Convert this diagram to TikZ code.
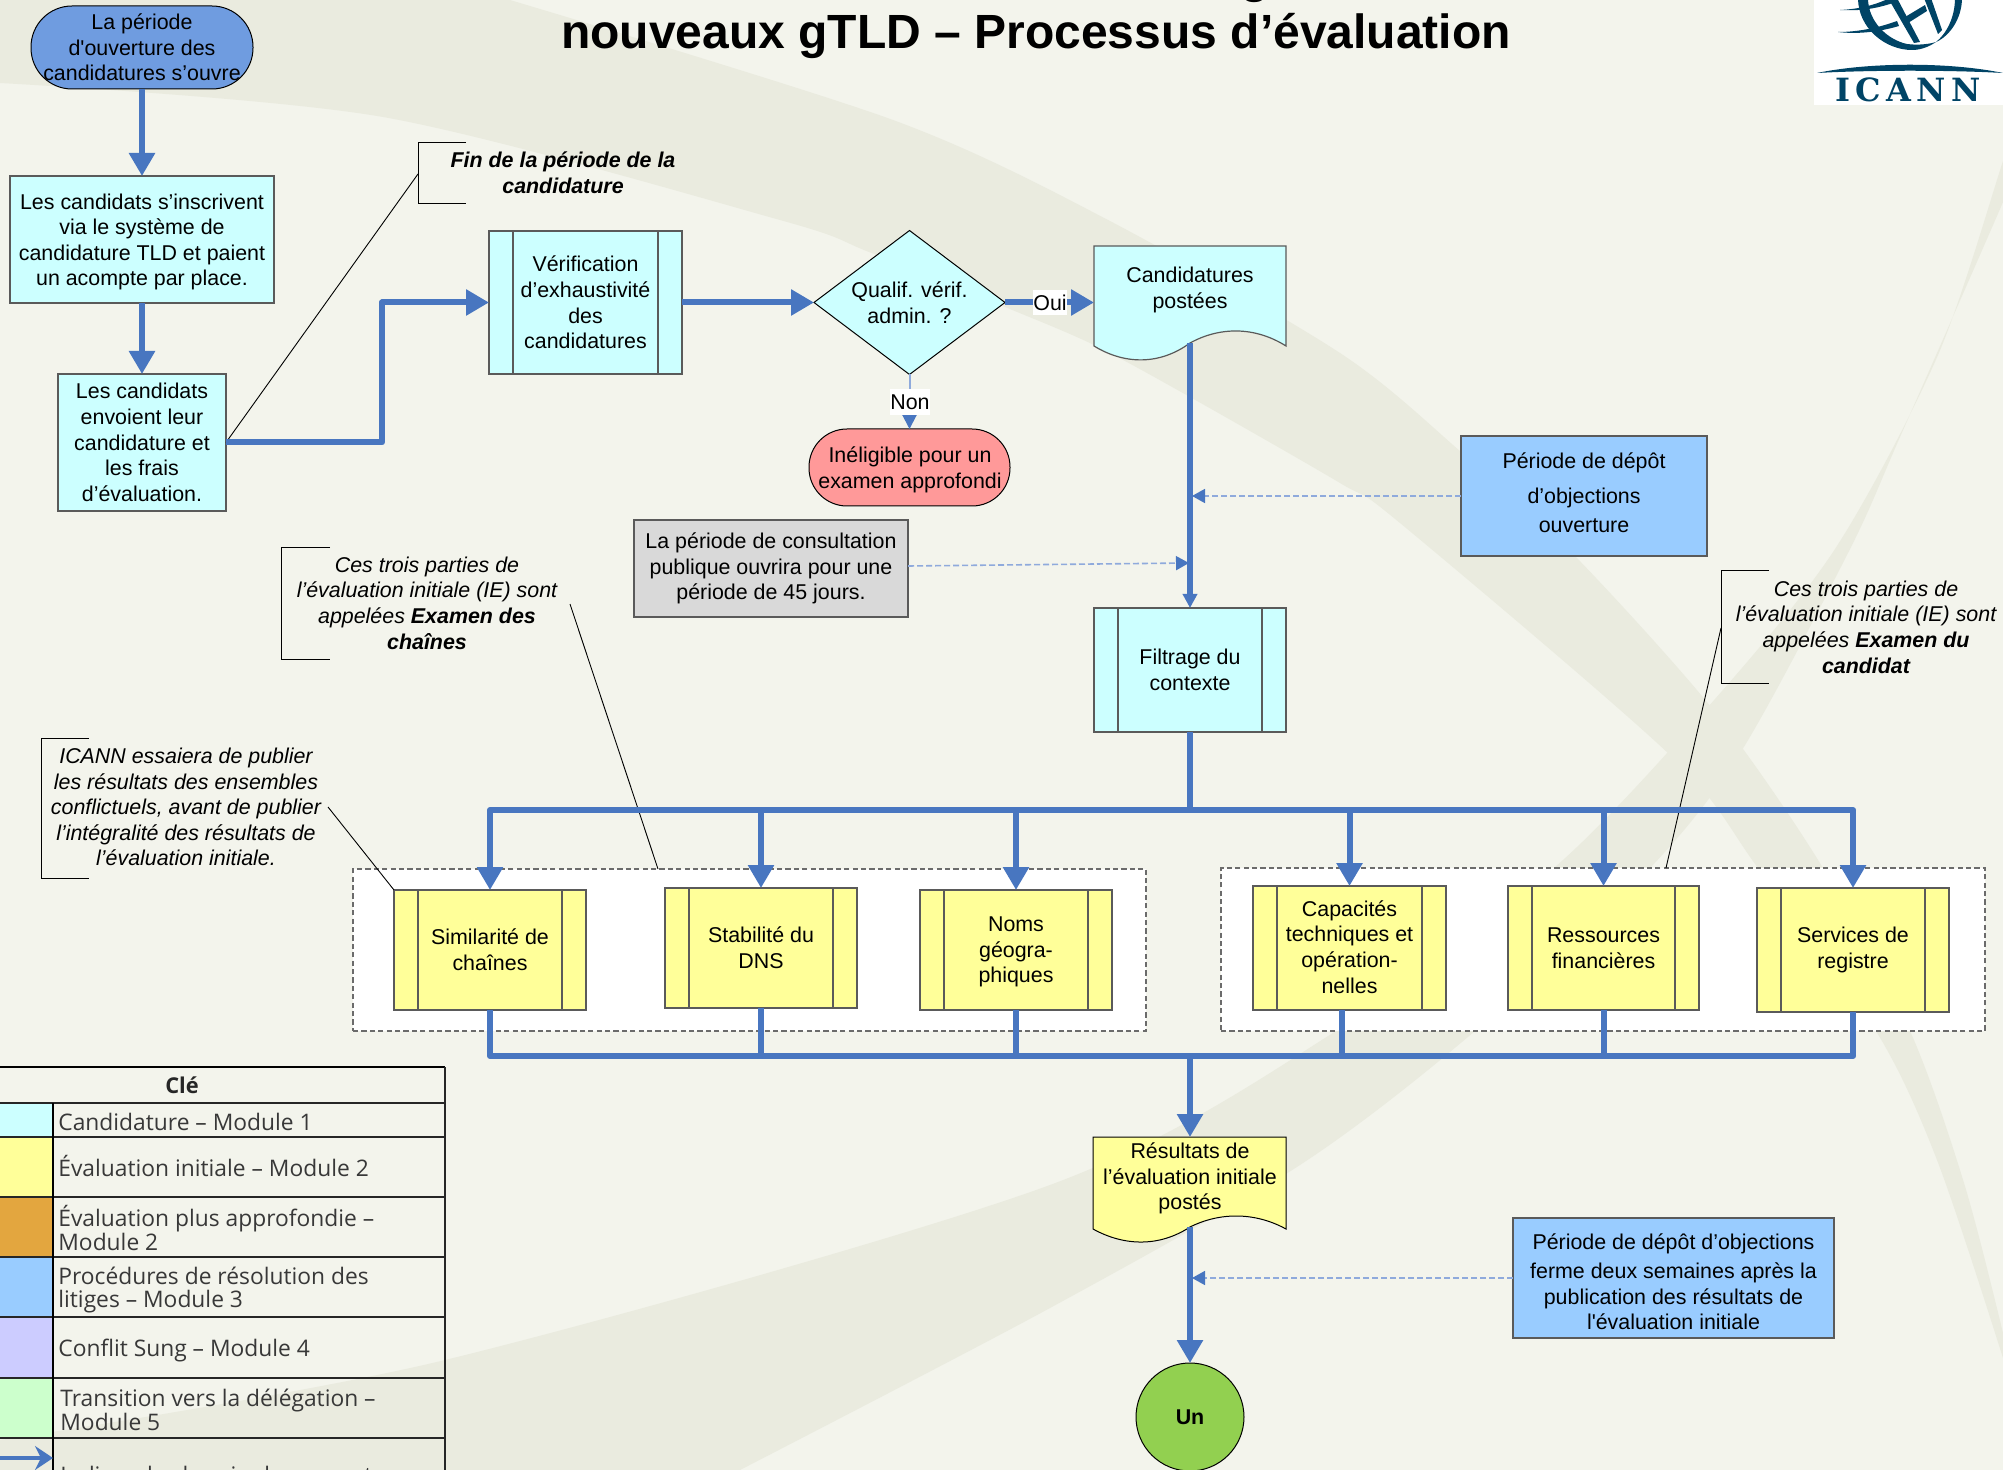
\documentclass[tikz,border=0pt]{standalone}
\usepackage{fontspec}
\setmainfont{Liberation Sans}
\newfontfamily\legf{Open Sans}
\newfontfamily\logof{DejaVu Serif}
\usetikzlibrary{arrows.meta,shapes.geometric,calc}
\definecolor{bgc}{HTML}{F3F4EC}
\definecolor{bandc}{HTML}{EAEBDF}
\definecolor{flowc}{HTML}{4876C0}
\definecolor{palec}{HTML}{8FAADC}
\definecolor{cyanc}{HTML}{CCFFFF}
\definecolor{yelc}{HTML}{FFFF99}
\definecolor{bluec}{HTML}{99CCFF}
\definecolor{grayc}{HTML}{D9D9D9}
\definecolor{startc}{HTML}{6F9CE0}
\definecolor{redc}{HTML}{FF9999}
\definecolor{greenc}{HTML}{92D050}
\definecolor{orangec}{HTML}{E3A63F}
\definecolor{lavc}{HTML}{CCCCFF}
\definecolor{mintc}{HTML}{CCFFCC}
\definecolor{logoc}{HTML}{004466}
\definecolor{edgec}{HTML}{5A5A5A}
\tikzset{
  bodytext/.style={font=\fontsize{10.7}{12.8}\selectfont,align=center,text=black},
  pbox/.style={bodytext,draw=edgec,line width=0.6pt},
  termbox/.style={bodytext,draw=black,line width=0.5pt},
  flowline/.style={draw=flowc,line width=3pt,line join=round},
  flow/.style={flowline,-{Triangle[length=11.5pt,width=12.5pt]}},
  flowsmall/.style={draw=flowc,line width=2.6pt,line join=round,-{Triangle[length=7pt,width=7pt]}},
  dashflow/.style={draw=palec,line width=0.8pt,dash pattern=on 3pt off 1.5pt,-{Triangle[length=6.5pt,width=7pt,color=flowc,fill=flowc]}},
  paleflow/.style={draw=palec,line width=1pt,-{Triangle[length=7pt,width=7pt,color=flowc,fill=flowc]}},
  leader/.style={draw=black,line width=0.45pt},
  brace/.style={draw=black,line width=0.5pt},
  note/.style={bodytext,font=\fontsize{10.7}{12.8}\selectfont\itshape},
  notebold/.style={bodytext,font=\fontsize{10.7}{12.8}\selectfont\bfseries\itshape},
  groupbox/.style={fill=white,draw=black!58,line width=0.6pt,dash pattern=on 2.6pt off 1.6pt},
  legrule/.style={draw=black!85,line width=0.8pt},
  legtext/.style={font=\legf\fontsize{11.4}{11.8}\selectfont,text=black!78,align=left,anchor=west},
  band/.style={fill=bandc,draw=none},
  logofill/.style={fill=logoc,draw=none},
  edgelabel/.style={fill=white,inner sep=0pt,font=\fontsize{10.7}{12.8}\selectfont},
}
% style, name, x1, y1, x2, y2, text
\newcommand{\boxn}[7]{\node[#1,inner sep=0pt,outer sep=0pt,minimum width={(#5-#3)*0.5pt},minimum height={(#6-#4)*0.5pt}] (#2) at ({(#3+#5)/2},{(#4+#6)/2}) {#7};}
\newcommand{\subrlines}[1]{%
  \draw[draw=edgec,line width=0.6pt] ([xshift=12pt]#1.north west) -- ([xshift=12pt]#1.south west);
  \draw[draw=edgec,line width=0.6pt] ([xshift=-12pt]#1.north east) -- ([xshift=-12pt]#1.south east);}
\begin{document}
\begin{tikzpicture}[x=0.5pt,y=-0.5pt]
\useasboundingbox (0,0) rectangle (2003,1470);
\clip (0,0) rectangle (2003,1470);
% background
\fill[bgc] (0,0) rectangle (2003,1470);
\fill[band] plot[smooth,tension=0.5] coordinates {(510,0) (893,120) (1108,220) (1340,353) (1461,452) (1573,554) (1715,712) (1823,868) (1910,1031) (1964,1183) (2003,1333) (2010,1370)}
  -- plot[smooth,tension=0.5] coordinates {(2010,1390) (2003,1358) (1937,1160) (1876,1031) (1758,868) (1671,756) (1400,523) (1340,483) (1190,397) (1094,345) (1005,307) (869,252) (780,220) (383,117) (0,83)}
  -- (0,0) -- cycle;
\fill[band] plot[smooth,tension=0.5] coordinates {(2010,140) (2003,161) (1938,355) (1835,549) (1708,707) (1554,868) (1336,1031) (1050,1185) (445,1360) (0,1440)}
  -- (0,1470) -- (740,1470)
  -- plot[smooth,tension=0.5] coordinates {(740,1470) (1050,1308) (1300,1165) (1475,1031) (1650,868) (1742,750) (1850,549) (1900,437) (2003,202) (2010,180)}
  -- cycle;
% logo
\fill[white] (1814,0) rectangle (2003,105);
\fill[logofill] (1817,73) .. controls (1870,62) and (1950,62) .. (2003,73) .. controls (1950,70) and (1870,70) .. (1817,73) -- cycle;
\fill[logofill] (1858,-2) .. controls (1858,28) and (1885,50) .. (1912,50) .. controls (1922,50) and (1930,46) .. (1936,42) .. controls (1926,45) and (1915,45) .. (1907,44) .. controls (1888,40) and (1868,22) .. (1868,-2) -- cycle;
\fill[logofill] (1962,-2) .. controls (1962,18) and (1950,36) .. (1936,42) .. controls (1946,34) and (1955,18) .. (1955,-2) -- cycle;
\fill[logofill] (1840,10) .. controls (1860,9) and (1875,5) .. (1890,-2) -- (1893,3) .. controls (1875,9) and (1860,11) .. (1840,10) -- cycle;
\fill[logofill] (1838,32) .. controls (1855,32) and (1875,29) .. (1897,21) -- (1899,26) .. controls (1875,33) and (1855,34) .. (1838,32) -- cycle;
\fill[logofill] (1905,17) -- (1925,5) -- (1927,11) -- (1908,23) -- cycle;
\fill[logofill] (1888,-2) -- (1897,-2) -- (1920,42) -- (1914,43) -- cycle;
\fill[logofill] (1924,-2) -- (1931,-2) -- (1942,30) -- (1938,34) -- cycle;
\node[text=logoc,inner sep=0pt,anchor=base,font=\logof\bfseries\fontsize{16}{16}\selectfont] (logotext) at (1908,102) {\addfontfeature{LetterSpace=17}ICANN};
% title
\node[inner sep=0pt,anchor=base,font=\bfseries\fontsize{24}{26}\selectfont] (title) at (1036,49) {nouveaux gTLD – Processus d’évaluation};
\node[inner sep=0pt,anchor=base,font=\bfseries\fontsize{24}{26}\selectfont] (titleg) at (1255,-7) {g};
% grouped backgrounds
\boxn{groupbox}{grpa}{353}{869}{1146}{1031}{}
\boxn{groupbox}{grpb}{1221}{868}{1985}{1031}{}
% nodes
\boxn{termbox,fill=startc,rounded corners=20.5pt}{start}{31}{6}{253}{89}{La période\\d\textquotesingle ouverture des\\candidatures s’ouvre}
\boxn{pbox,fill=cyanc}{inscr}{10}{176}{274}{303}{}
\node[bodytext,inner sep=0pt] (inscrtext) at (142,242) {Les candidats s’inscrivent\\via le système de\\candidature TLD et paient\\un acompte par place.};
\boxn{pbox,fill=cyanc}{envoi}{58}{374}{226}{511}{Les candidats\\envoient leur\\candidature et\\les frais\\d’évaluation.}
\boxn{pbox,fill=cyanc}{verif}{489}{231}{682}{374}{Vérification\\d’exhaustivité\\des\\candidatures}
\subrlines{verif}
\node[termbox,diamond,fill=cyanc,shape aspect=1.336,inner sep=0pt,outer sep=0pt,minimum width=95.5pt,minimum height=72pt] (qual) at (909.5,302.5) {Qualif. vérif.\\admin. ?};
\boxn{termbox,fill=redc,rounded corners=19pt}{inel}{809}{429}{1010}{506}{}
\node[bodytext,inner sep=0pt] (ineltext) at (910,470) {Inéligible pour un\\examen approfondi};
% document shape 1
\draw[pbox,fill=cyanc] (1094,246) -- (1286,246) -- (1286,346) .. controls (1255,326.5) and (1220,326.5) .. (1190,343) .. controls (1160,365) and (1125,365) .. (1094,346) -- cycle;
\node[bodytext,inner sep=0pt] (cand) at (1190,290) {Candidatures\\postées};
\coordinate (candin) at (1094,302.5);
\coordinate (candout) at (1190,343);
\boxn{pbox,fill=bluec}{ouvr}{1461}{436}{1707}{556}{}
\node[bodytext,inner sep=0pt] (ouvrtext) at (1584,493) {Période de dépôt\\[4.7pt]d’objections\\[1.7pt]ouverture};
\boxn{pbox,fill=grayc}{consult}{634}{520}{908}{617}{La période de consultation\\publique ouvrira pour une\\période de 45 jours.}
\boxn{pbox,fill=cyanc}{filt}{1094}{608}{1286}{732}{Filtrage du\\contexte}
\subrlines{filt}
\boxn{pbox,fill=yelc}{sim}{394}{890}{586}{1010}{Similarité de\\chaînes}
\subrlines{sim}
\boxn{pbox,fill=yelc}{stab}{665}{888}{857}{1008}{Stabilité du\\DNS}
\subrlines{stab}
\boxn{pbox,fill=yelc}{noms}{920}{890}{1112}{1010}{}
\subrlines{noms}
\node[bodytext,inner sep=0pt] (nomstext) at (1016,952) {Noms\\géogra-\\phiques};
\boxn{pbox,fill=yelc}{capa}{1253}{886}{1446}{1010}{}
\subrlines{capa}
\node[bodytext,inner sep=0pt] (capatext) at (1349.5,947) {Capacités\\techniques et\\opération-\\nelles};
\boxn{pbox,fill=yelc}{ress}{1508}{886}{1699}{1010}{Ressources\\financières}
\subrlines{ress}
\boxn{pbox,fill=yelc}{serv}{1757}{888}{1949}{1012}{Services de\\registre}
\subrlines{serv}
% document shape 2
\draw[termbox,fill=yelc] (1093,1137) -- (1286,1137) -- (1286,1229) .. controls (1255,1212) and (1220,1212) .. (1190,1227) .. controls (1160,1246.7) and (1125,1246.7) .. (1093,1229) -- cycle;
\node[bodytext,inner sep=0pt] (res) at (1190,1178.5) {Résultats de\\l’évaluation initiale\\postés};
\coordinate (resin) at (1190,1137);
\coordinate (resout) at (1190,1227);
\boxn{pbox,fill=bluec}{ferm}{1513}{1218}{1834}{1338}{}
\node[bodytext,inner sep=0pt] (fermtext) at (1673.5,1282) {Période de dépôt d’objections\\[1.7pt]ferme deux semaines après la\\publication des résultats de\\l\textquotesingle évaluation initiale};
\node[circle,draw=black,line width=0.5pt,fill=greenc,inner sep=0pt,outer sep=0pt,minimum size=54pt,font=\fontsize{10.7}{12.8}\selectfont\bfseries] (un) at (1190,1417) {Un};
% callouts
\draw[brace] (466,143) -- (418,143) -- (418,204) -- (466,204);
\node[notebold,inner sep=0pt] (nfin) at (563,173) {Fin de la période de la\\candidature};
\coordinate (lfin) at (418,174);
\draw[leader] (lfin) -- (envoi.east);
\draw[brace] (330,548) -- (281,548) -- (281,660) -- (330,660);
\node[note,inner sep=0pt] (nchain) at (427,603) {Ces trois parties de\\l’évaluation initiale (IE) sont\\appelées \textbf{Examen des}\\\textbf{chaînes}};
\coordinate (lchaina) at (570,604);
\coordinate (lchainb) at (658,869);
\draw[leader] (lchaina) -- (lchainb);
\draw[brace] (1769,571) -- (1721,571) -- (1721,684) -- (1769,684);
\node[note,inner sep=0pt] (ncand) at (1866,627) {Ces trois parties de\\l’évaluation initiale (IE) sont\\appelées \textbf{Examen du}\\\textbf{candidat}};
\coordinate (lcanda) at (1721,628);
\coordinate (lcandb) at (1666,868);
\draw[leader] (lcanda) -- (lcandb);
\draw[brace] (89,738) -- (41,738) -- (41,878) -- (89,878);
\node[note,inner sep=0pt] (nicann) at (186,807) {ICANN essaiera de publier\\les résultats des ensembles\\conflictuels, avant de publier\\l’intégralité des résultats de\\l’évaluation initiale.};
\coordinate (licann) at (328,807);
\draw[leader] (licann) -- (sim.north west);
% connectors
\draw[flow] (start) -- (inscr);
\draw[flow] (inscr) -- (envoi);
\coordinate (jog) at (382,442.5);
\draw[flow] (envoi.east) -- (jog) -- (jog |- verif.west) -- (verif.west);
\draw[flow] (verif.east) -- (qual.west);
\draw[flow] (qual.east) -- (candin);
\node[edgelabel,minimum width=17pt,minimum height=12.5pt] (oui) at (1050,303) {Oui};
\draw[paleflow] (qual.south) -- (inel.north);
\node[edgelabel,minimum width=19.5pt,minimum height=13pt] (non) at (910,402) {Non};
\draw[flowsmall] (candout) -- (filt.north);
\coordinate (tipa) at (1192,496);
\coordinate (consout) at (908,566);
\coordinate (tipb) at (1189,563);
\coordinate (tipc) at (1192,1278);
\draw[dashflow] (ouvr.west) -- (tipa);
\draw[dashflow] (consout) -- (tipb);
\draw[dashflow] (ferm.west |- tipc) -- (tipc);
\coordinate (busl) at (490,810);
\coordinate (busr) at (1853,810);
\draw[flowline] (filt.south) -- (filt.south |- busl);
\draw[flowline,line cap=round] (busl) -- (busr);
\foreach \t in {sim,stab,noms,capa,ress,serv}{\draw[flow] (\t.north |- busl) -- (\t.north);}
\coordinate (botl) at (490,1056);
\coordinate (botr) at (1853,1056);
\coordinate (capout) at (1342,1010);
\draw[flowline,line cap=round] (botl) -- (botr);
\foreach \t in {sim,stab,noms,ress,serv}{\draw[flowline] (\t.south) -- (\t.south |- botl);}
\draw[flowline] (capout) -- (capout |- botl);
\draw[flow] (resin |- botl) -- (resin);
\draw[flow] (resout) -- (un.north);
% legend
\fill[cyanc] (0,1103) rectangle (53,1137);
\fill[yelc] (0,1137) rectangle (53,1197);
\fill[orangec] (0,1197) rectangle (53,1257);
\fill[bluec] (0,1257) rectangle (53,1317);
\fill[lavc] (0,1317) rectangle (53,1378);
\fill[mintc] (0,1378) rectangle (53,1438);
\foreach \yy in {1103,1137,1197,1257,1317,1378,1438}{\draw[legrule] (0,\yy) -- (445,\yy);}
\draw[draw=black,line width=1pt] (0,1067) -- (445,1067);
\draw[legrule] (445,1067) -- (445,1470);
\draw[draw=black,line width=1.2pt] (53,1103) -- (53,1470);
\node[font=\legf\bfseries\fontsize{10.9}{12}\selectfont,text=black!85,inner sep=0pt] (clehead) at (182,1085) {Clé};
\node[legtext,inner sep=0pt] (lega) at (58,1122) {Candidature – Module 1};
\node[legtext,inner sep=0pt] (legb) at (58,1166) {Évaluation initiale – Module 2};
\node[legtext,inner sep=0pt] (legc) at (58,1228) {Évaluation plus approfondie –\\Module 2};
\node[legtext,inner sep=0pt] (legd) at (58,1290) {Procédures de résolution des\\litiges – Module 3};
\node[legtext,inner sep=0pt] (lege) at (58,1351) {Conflit Sung – Module 4};
\node[legtext,inner sep=0pt] (legf) at (60,1410) {Transition vers la délégation –\\Module 5};
\node[legtext,inner sep=0pt,anchor=north west] (legg) at (60,1466) {Indique le chemin du courant};
\coordinate (legs) at (0,1458);
\coordinate (lege2) at (53,1458);
\draw[draw=flowc,line width=2pt,-{Stealth[length=9pt,width=12pt,inset=3pt]}] (legs) -- (lege2);
\end{tikzpicture}
\end{document}
